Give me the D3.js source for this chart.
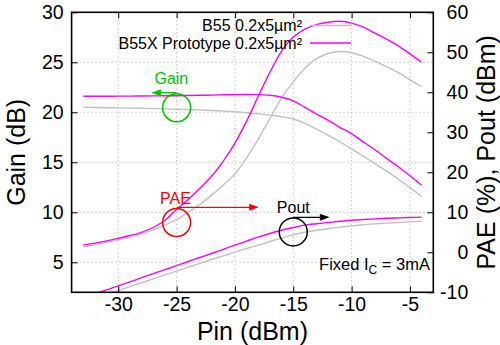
<!DOCTYPE html>
<html>
<head>
<meta charset="utf-8">
<script src="https://cdn.jsdelivr.net/npm/d3@7"></script>
<style>
  body { margin: 0; background: #fff; }
  text { font-family: "Liberation Sans", Arial, Helvetica, sans-serif; }
</style>
</head>
<body>
<svg id="chart" width="500" height="345"></svg>
<script>
// input power sweep (dBm)
var pin = [-33,-32,-31,-30,-29,-28,-27,-26,-25,-24,-23,-22,-21,-20,-19,-18,-17,-16,-15,-14,-13,-12,-11,-10,-9,-8,-7,-6,-5,-4];

// B55X prototype (magenta)
var gainB55X = [21.6,21.6,21.6,21.62,21.62,21.63,21.64,21.65,21.66,21.68,21.7,21.72,21.75,21.77,21.78,21.77,21.7,21.5,21.15,20.5,19.82,19.2,18.5,17.85,17.05,16.25,15.4,14.55,13.65,12.7];
var paeB55X  = [1.8,2.3,2.85,3.5,4.2,5.0,6.2,8.0,10.7,13.2,16.0,19.0,22.8,27.3,32.8,39.0,45.0,50.3,53.8,55.8,56.9,57.5,57.75,57.3,56.3,54.8,53.3,51.6,49.6,47.5];
var poutB55X = [-11.4,-10.4,-9.4,-8.4,-7.4,-6.35,-5.35,-4.35,-3.35,-2.3,-1.3,-0.3,0.75,1.8,2.8,3.8,4.7,5.5,6.2,6.8,7.15,7.45,7.75,8.0,8.2,8.35,8.5,8.6,8.7,8.8];

// B55 (grey)
var gainB55 = [20.5,20.48,20.46,20.44,20.42,20.4,20.37,20.34,20.3,20.28,20.24,20.18,20.12,20.05,19.95,19.84,19.72,19.57,19.33,18.9,18.32,17.7,17.05,16.35,15.62,14.87,14.12,13.32,12.48,11.55];
var paeB55  = [1.4,1.9,2.5,3.1,3.8,4.6,5.6,6.8,8.2,10.0,12.0,14.3,16.8,19.6,23.6,28.3,33.5,38.6,42.6,46.0,48.4,49.7,50.2,49.9,49.0,47.8,46.4,44.9,43.1,41.4];
var poutB55 = [-12.5,-11.5,-10.55,-9.55,-8.6,-7.6,-6.65,-5.65,-4.7,-3.7,-2.75,-1.8,-0.9,0.05,0.95,1.8,2.7,3.55,4.4,5.0,5.5,5.9,6.3,6.6,6.9,7.1,7.3,7.45,7.6,7.75];

var xTicks = [-30,-25,-20,-15,-10,-5];
var yLeftTicks = [5,10,15,20,25,30];
var yRightTicks = [-10,0,10,20,30,40,50,60];

var seriesNames = ["B55 0.2x5\u00b5m\u00b2", "B55X Prototype 0.2x5\u00b5m\u00b2"];
var seriesColors = ["#c0c0c0", "#ff00ff"];

// annotation labels: [text, colour, pin, value, axis]
var noteLabels = [["Gain","#00c000",-25.45,22.88,"L"],["PAE","#ff0000",-25.1,12.1,"R"],["Pout","#000000",-15,9.75,"R"]];
// circles: [colour, pin, value, axis]
var noteCircles = [["#00c000",-25,20.46,"L"],["#ff0000",-25,7.45,"R"],["#000000",-15,5.1,"R"]];
// arrows: [colour, pin from, pin to, value, axis]
var noteArrows = [["#00c000",-25,-27.05,21.96,"L"],["#ff0000",-25,-18.06,11.25,"R"],["#000000",-15,-12,8.75,"R"]];

var svg = d3.select("#chart");
var pLeft = 71.6, pRight = 433.3, pTop = 12.3, pBottom = 292.3;

var x = d3.scaleLinear().domain([-34, -3]).range([pLeft, pRight]);
var yL = d3.scaleLinear().domain([2, 30]).range([pBottom, pTop]);
var yR = d3.scaleLinear().domain([-10, 60]).range([pBottom, pTop]);
function yOf(axis) { return axis == "L" ? yL : yR; }

svg.append("defs").append("clipPath").attr("id", "plotclip")
  .append("rect").attr("x", pLeft).attr("y", pTop).attr("width", pRight - pLeft).attr("height", pBottom - pTop);

// grid
var grid = svg.append("g").attr("stroke", "#a8a8a8").attr("stroke-width", 1).attr("stroke-dasharray", "1,3");
grid.selectAll("line.v").data(xTicks).enter().append("line")
  .attr("x1", d => x(d)).attr("x2", d => x(d)).attr("y1", pTop).attr("y2", pBottom);
grid.selectAll("line.h").data(yLeftTicks.filter(d => d < 30)).enter().append("line")
  .attr("x1", pLeft).attr("x2", pRight).attr("y1", d => yL(d)).attr("y2", d => yL(d));

// curves
var plot = svg.append("g").attr("clip-path", "url(#plotclip)");
function drawCurve(vals, scale, color) {
  var line = d3.line()
    .x((d, i) => x(pin[i]))
    .y(d => scale(d))
    .curve(d3.curveCatmullRom.alpha(0.5));
  plot.append("path").datum(vals)
    .attr("fill", "none").attr("stroke", color).attr("stroke-width", 1.4)
    .attr("d", line);
}
drawCurve(gainB55, yL, seriesColors[0]);
drawCurve(paeB55, yR, seriesColors[0]);
drawCurve(poutB55, yR, seriesColors[0]);
drawCurve(gainB55X, yL, seriesColors[1]);
drawCurve(paeB55X, yR, seriesColors[1]);
drawCurve(poutB55X, yR, seriesColors[1]);

// axes
var fmt = d => String(d);
var gx = svg.append("g").attr("transform", "translate(0," + pBottom + ")")
  .call(d3.axisBottom(x).tickValues(xTicks).tickSize(-6).tickPadding(5).tickFormat(fmt));
var gxt = svg.append("g").attr("transform", "translate(0," + pTop + ")")
  .call(d3.axisTop(x).tickValues(xTicks).tickSize(-6).tickFormat(""));
var gyl = svg.append("g").attr("transform", "translate(" + pLeft + ",0)")
  .call(d3.axisLeft(yL).tickValues(yLeftTicks).tickSize(-6).tickPadding(8).tickFormat(fmt));
var gyr = svg.append("g").attr("transform", "translate(" + pRight + ",0)")
  .call(d3.axisRight(yR).tickValues(yRightTicks).tickSize(-6).tickPadding(35).tickFormat(fmt));
gyr.selectAll("text").attr("text-anchor", "end");

[gx, gxt, gyl, gyr].forEach(function(g) {
  g.select(".domain").remove();
  g.selectAll("line").attr("stroke", "#000").attr("stroke-width", 1);
  g.selectAll("text").attr("fill", "#000").style("font-size", "19.5px")
    .style("font-family", "'Liberation Sans', Arial, sans-serif");
});

svg.append("rect").attr("x", pLeft).attr("y", pTop).attr("width", pRight - pLeft).attr("height", pBottom - pTop)
  .attr("fill", "none").attr("stroke", "#000").attr("stroke-width", 1.6);

// axis titles
svg.append("text").attr("x", (pLeft + pRight) / 2).attr("y", 339.5).attr("text-anchor", "middle")
  .style("font-size", "25px").text("Pin (dBm)");
svg.append("text").attr("transform", "translate(25," + (pTop + pBottom) / 2 + ") rotate(-90)")
  .attr("text-anchor", "middle").style("font-size", "25px").text("Gain (dB)");
svg.append("text").attr("transform", "translate(495," + (pTop + pBottom) / 2 + ") rotate(-90)")
  .attr("text-anchor", "middle").style("font-size", "25px").text("PAE (%), Pout (dBm)");

// legend
var legend = svg.append("g");
seriesNames.forEach(function(name, i) {
  var ly = 25.5 + i * 17.5;
  legend.append("text").attr("x", 302).attr("y", ly + 5.5).attr("text-anchor", "end")
    .style("font-size", "16px").text(name);
  legend.append("line").attr("x1", 310).attr("x2", 351).attr("y1", ly).attr("y2", ly)
    .attr("stroke", seriesColors[i]).attr("stroke-width", 1.4);
});

// annotations
var notes = svg.append("g");
noteLabels.forEach(function(n) {
  notes.append("text").attr("x", x(n[2])).attr("y", yOf(n[4])(n[3])).attr("text-anchor", "middle")
    .attr("fill", n[1]).style("font-size", "16px").text(n[0]);
});
noteCircles.forEach(function(c) {
  notes.append("circle").attr("cx", x(c[1])).attr("cy", yOf(c[3])(c[2])).attr("r", 14)
    .attr("fill", "none").attr("stroke", c[0]).attr("stroke-width", 1.5);
});
noteArrows.forEach(function(a) {
  var yy = yOf(a[4])(a[3]);
  var x1 = x(a[1]), x2 = x(a[2]);
  var dir = x2 > x1 ? 1 : -1;
  notes.append("line").attr("x1", x1).attr("x2", x2).attr("y1", yy).attr("y2", yy)
    .attr("stroke", a[0]).attr("stroke-width", 1.3);
  notes.append("path")
    .attr("d", "M" + x2 + "," + yy + "L" + (x2 - dir * 8) + "," + (yy - 3) + "L" + (x2 - dir * 8) + "," + (yy + 3) + "Z")
    .attr("fill", a[0]).attr("stroke", a[0]).attr("stroke-width", 0.8);
});

var fixed = svg.append("text").attr("x", 430).attr("y", 269.5).attr("text-anchor", "end").style("font-size", "16.5px");
fixed.append("tspan").text("Fixed I");
fixed.append("tspan").attr("dy", 4).style("font-size", "12px").text("C");
fixed.append("tspan").attr("dy", -4).text(" = 3mA");
</script>
</body>
</html>
